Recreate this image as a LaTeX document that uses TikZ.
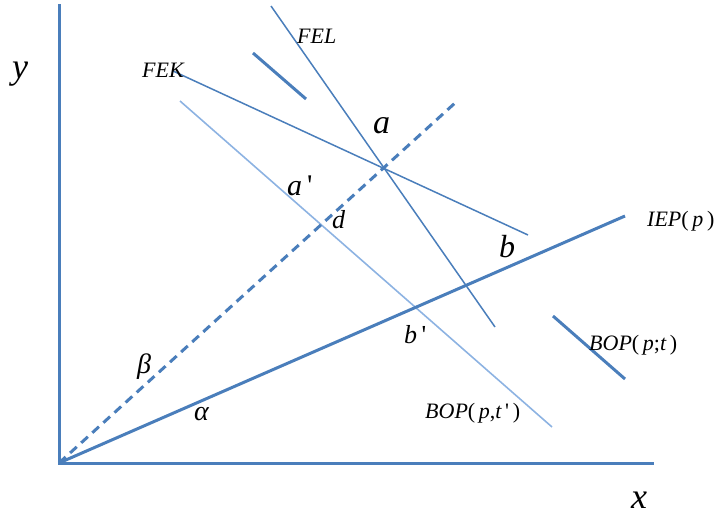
\documentclass[tikz,border=0pt]{standalone}
\usepackage{fontspec}
\setmainfont{Liberation Serif}
\definecolor{ln}{HTML}{4A7EBB}
\definecolor{lnlight}{HTML}{8DB3E2}
\newcommand{\sq}{\textquotesingle}
\tikzset{
  thickln/.style={draw=ln, line width=3pt},
  thinln/.style={draw=ln, line width=1.5pt},
  lightln/.style={draw=lnlight, line width=1.6pt},
  dashln/.style={draw=ln, line width=3pt, dash pattern=on 9pt off 6pt},
  lbl/.style={inner sep=0pt, anchor=base west, font=\fontsize{22}{26}\selectfont\itshape},
  biglbl/.style={inner sep=0pt, anchor=base west, font=\fontsize{34}{40}\selectfont\itshape},
  midlbl/.style={inner sep=0pt, anchor=base west, font=\fontsize{26}{30}\selectfont\itshape},
}
\begin{document}
\begin{tikzpicture}[x=1pt,y=-1pt]
\useasboundingbox (0,0) rectangle (714,516);
% coordinates
\coordinate (O) at (59,463);
\coordinate (ytop) at (59,6);
\coordinate (xend) at (652,463);
\coordinate (felA) at (271,6);
\coordinate (felB) at (495,327);
\coordinate (shA) at (253,53);
\coordinate (shB) at (306,99);
\coordinate (fekA) at (173,71);
\coordinate (fekB) at (528,235);
\coordinate (lA) at (180,101);
\coordinate (lB) at (552,427);
\coordinate (dE) at (455,103);
\coordinate (iepE) at (625,216);
\coordinate (bopA) at (553,316);
\coordinate (bopB) at (625,379);
% axes
\draw[thickln, line cap=rect] (ytop) -- (O) -- (xend);
% lines
\draw[thinln] (felA) -- (felB);
\draw[thickln] (shA) -- (shB);
\draw[thinln] (fekA) -- (fekB);
\draw[lightln] (lA) -- (lB);
\draw[dashln] (O) -- (dE);
\draw[thickln] (O) -- (iepE);
\draw[thickln] (bopA) -- (bopB);
% labels
\node[biglbl, font=\fontsize{36}{40}\selectfont\itshape] (ly) at (12,79) {y};
\node[biglbl, font=\fontsize{36}{40}\selectfont\itshape] (lx) at (631,508) {x};
\node[biglbl] (la) at (373,133) {a};
\node[biglbl, font=\fontsize{32}{36}\selectfont\itshape] (lb) at (499,257) {b};
\node[biglbl, font=\fontsize{30}{34}\selectfont\itshape] (la2) at (287,195) {a\,\upshape\sq};
\node[midlbl] (ld) at (332,228) {d};
\node[midlbl] (lb2) at (404,343) {b\,\upshape\sq};
\node[midlbl, font=\fontsize{28}{32}\selectfont\itshape] (lbeta) at (137,373) {β};
\node[midlbl, font=\fontsize{28}{32}\selectfont\itshape] (lalpha) at (194,420) {α};
\node[lbl] (lfel) at (297,44) {FEL};
\node[lbl] (lfek) at (142,78) {FEK};
\node[lbl] (liep) at (647,226) {IEP\upshape(\,\itshape p\upshape\,)};
\node[lbl] (lbopt) at (589,350) {BOP\upshape(\,\itshape p\upshape;\itshape t\upshape\,)};
\node[lbl] (lbopt2) at (425,418) {BOP\upshape(\,\itshape p\upshape,\itshape t\,\upshape\sq\,)};
\end{tikzpicture}
\end{document}
